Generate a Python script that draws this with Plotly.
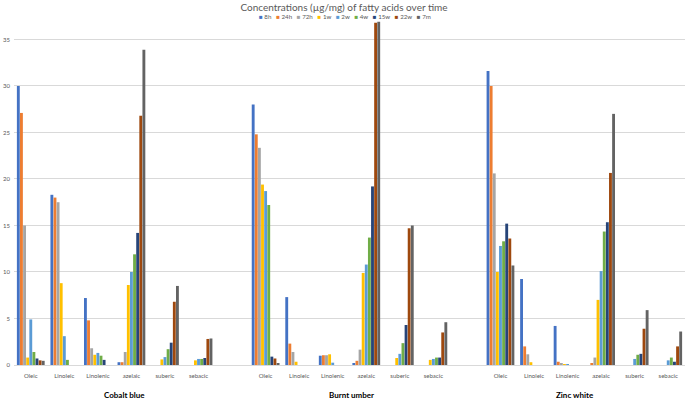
import plotly.graph_objects as go

groups = ["Cobalt blue", "Burnt umber", "Zinc white"]
acids = ["Oleic", "Linoleic", "Linolenic", "azelaic", "suberic", "sebacic"]
series = ["8h", "24h", "72h", "1w", "2w", "4w", "15w", "22w", "7m"]
colors = ["#4472C4", "#ED7D31", "#A5A5A5", "#FFC000", "#5B9BD5",
          "#70AD47", "#264478", "#9E480E", "#636363"]

# values per series: Cobalt blue (6 acids), Burnt umber (6), Zinc white (6)
v_8h  = [30.0, 18.3, 7.2, 0.3, 0, 0,     28.0, 7.3, 1.0, 0.15, 0, 0,      31.6, 9.25, 4.2, 0, 0, 0]
v_24h = [27.1, 18.0, 4.8, 0.3, 0, 0,     24.8, 2.3, 1.05, 0.45, 0, 0,     30.0, 2.0, 0.35, 0.15, 0, 0]
v_72h = [15.0, 17.5, 1.8, 1.4, 0, 0,     23.35, 1.4, 1.05, 1.65, 0, 0,    20.6, 1.15, 0.2, 0.8, 0, 0]
v_1w  = [0.8, 8.8, 1.1, 8.6, 0.6, 0.5,   19.4, 0.35, 1.15, 9.9, 0.75, 0.55, 10.0, 0.3, 0.1, 7.0, 0, 0]
v_2w  = [4.9, 3.1, 1.3, 10.0, 0.85, 0.65, 18.7, 0, 0.25, 10.8, 1.2, 0.65, 12.8, 0, 0.05, 10.1, 0.65, 0.5]
v_4w  = [1.4, 0.55, 1.0, 11.9, 1.7, 0.65, 17.2, 0, 0, 13.7, 2.35, 0.8,    13.3, 0, 0, 14.35, 1.1, 0.8]
v_15w = [0.7, 0, 0.55, 14.2, 2.4, 0.75,  0.9, 0, 0, 19.2, 4.3, 0.8,       15.2, 0, 0, 15.35, 1.2, 0.35]
v_22w = [0.5, 0, 0, 26.8, 6.8, 2.8,      0.7, 0, 0, 36.8, 14.7, 3.5,      13.6, 0, 0, 20.65, 3.9, 2.0]
v_7m  = [0.45, 0, 0, 33.9, 8.5, 2.85,    0.15, 0, 0, 36.9, 15.0, 4.6,     10.7, 0, 0, 27.0, 5.9, 3.6]

values = [v_8h, v_24h, v_72h, v_1w, v_2w, v_4w, v_15w, v_22w, v_7m]

# category slot positions: 6 acids per group, one empty slot between groups
xpos = [gi * (len(acids) + 1) + ai for gi in range(len(groups)) for ai in range(len(acids))]
xlabels = [a for g in groups for a in acids]

FONT = "Lato"
GREY = "#595959"
W, H = 685, 399
ML, MR, MT, MB = 14, 0, 18.6, 33.7
PW = W - ML - MR


def paper_x(px):
    return (px - ML) / PW


fig = go.Figure()
for name, col, vals in zip(series, colors, values):
    fig.add_trace(go.Bar(x=xpos, y=vals, name=name, marker_color=col,
                         marker_line_width=0, showlegend=False))

nslots = len(groups) * (len(acids) + 1) - 1

# group labels
group_px = [125, 351, 575]
annotations = []
for g, px in zip(groups, group_px):
    annotations.append(dict(text="<b>" + g + "</b>", x=paper_x(px), xref="paper",
                            xanchor="center", y=0, yref="paper", yshift=-29.5,
                            yanchor="middle", showarrow=False,
                            font=dict(family=FONT, size=8, color="#000000")))

# compact legend built from the series names and colours
legend_txt = "&nbsp;&nbsp;&nbsp;".join(
    '<span style="color:%s">■</span>&nbsp;%s' % (c, s) for s, c in zip(series, colors))
annotations.append(dict(text=legend_txt, x=paper_x(345), xref="paper", xanchor="center",
                        y=1, yref="paper", yanchor="middle", yshift=2.6, showarrow=False,
                        font=dict(family=FONT, size=6.2, color=GREY)))

fig.update_layout(
    width=W, height=H,
    margin=dict(l=ML, r=MR, t=MT, b=MB),
    paper_bgcolor="white", plot_bgcolor="white",
    barmode="group", bargap=0.165, bargroupgap=0.08,
    title=dict(text="Concentrations (µg/mg) of fatty acids over time",
               x=344 / W, xanchor="center", y=1 - 7 / H, yanchor="middle",
               font=dict(family=FONT, size=10, color=GREY)),
    xaxis=dict(range=[-0.5, nslots - 0.5], tickmode="array", tickvals=xpos,
               ticktext=xlabels, showgrid=False, zeroline=False, showline=False,
               ticks="", ticklabelstandoff=6,
               tickfont=dict(family=FONT, size=6, color=GREY)),
    yaxis=dict(range=[0, 37.2], tickvals=[0, 5, 10, 15, 20, 25, 30, 35],
               showgrid=True, gridcolor="#D9D9D9", gridwidth=1,
               zeroline=True, zerolinecolor="#D9D9D9", zerolinewidth=1,
               showline=False, ticks="", ticklabelstandoff=3,
               tickfont=dict(family=FONT, size=6, color=GREY)),
    annotations=annotations,
)

fig.write_html("out.html", config={"displayModeBar": False},
               post_script="document.body.style.margin='0';document.body.style.padding='0';")
